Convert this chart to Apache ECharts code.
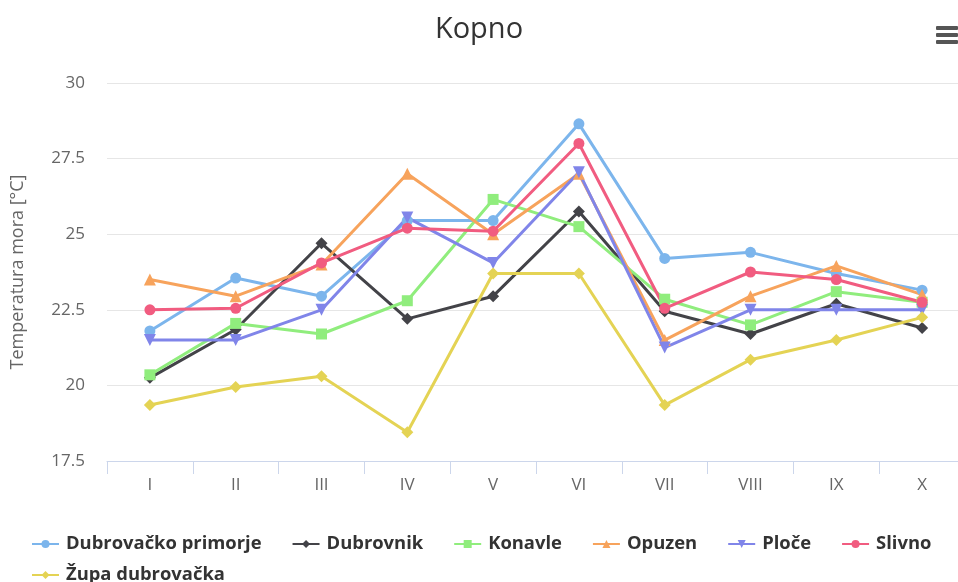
<!DOCTYPE html>
<html>
<head>
<meta charset="utf-8">
<script src="https://cdn.jsdelivr.net/npm/echarts@6/dist/echarts.min.js"></script>
<style>
  html, body { margin: 0; padding: 0; background: #fff; }
  #chart { width: 958px; height: 582px; }
</style>
</head>
<body>
<div id="chart"></div>
<script>
var months = ['I', 'II', 'III', 'IV', 'V', 'VI', 'VII', 'VIII', 'IX', 'X'];

var dubrovackoPrimorje = [21.8, 23.55, 22.95, 25.45, 25.45, 28.65, 24.2, 24.4, 23.7, 23.15];
var dubrovnik = [20.25, 21.85, 24.7, 22.2, 22.95, 25.75, 22.45, 21.7, 22.7, 21.9];
var konavle = [20.35, 22.05, 21.7, 22.8, 26.15, 25.25, 22.85, 22.0, 23.1, 22.75];
var opuzen = [23.5, 22.95, 24.0, 27.0, 25.0, 27.0, 21.5, 22.95, 23.95, 23.0];
var ploce = [21.5, 21.5, 22.5, 25.55, 24.05, 27.05, 21.25, 22.5, 22.5, 22.5];
var slivno = [22.5, 22.55, 24.05, 25.2, 25.1, 28.0, 22.55, 23.75, 23.5, 22.75];
var zupaDubrovacka = [19.35, 19.95, 20.3, 18.45, 23.7, 23.7, 19.35, 20.85, 21.5, 22.25];

var seriesDefs = [
    { name: 'Dubrovačko primorje', data: dubrovackoPrimorje, color: '#7cb5ec', symbol: 'circle', size: 11 },
    { name: 'Dubrovnik', data: dubrovnik, color: '#434348', symbol: 'diamond', size: 12 },
    { name: 'Konavle', data: konavle, color: '#90ed7d', symbol: 'rect', size: 11 },
    { name: 'Opuzen', data: opuzen, color: '#f7a35c', symbol: 'triangle', size: 12 },
    { name: 'Ploče', data: ploce, color: '#8085e9', symbol: 'triangle', size: 12, rotate: 180 },
    { name: 'Slivno', data: slivno, color: '#f15c80', symbol: 'circle', size: 11 },
    { name: 'Župa dubrovačka', data: zupaDubrovacka, color: '#e4d354', symbol: 'diamond', size: 12 }
];

var legendText = {
    color: '#333',
    fontSize: 18.4,
    fontWeight: 'bold',
    fontFamily: 'Open Sans, sans-serif',
    padding: [0, 0, 0, 2]
};

var chart = echarts.init(document.getElementById('chart'));

var option = {
    backgroundColor: '#fff',
    animation: false,
    textStyle: { fontFamily: 'Open Sans, sans-serif' },
    title: {
        text: 'Kopno',
        left: 'center',
        top: 10,
        textStyle: {
            color: '#333',
            fontSize: 29,
            fontWeight: 'normal',
            fontFamily: 'Open Sans, sans-serif'
        }
    },
    graphic: [
        { type: 'rect', right: 0, top: 26, shape: { width: 22, height: 4, r: 1 }, style: { fill: '#555' } },
        { type: 'rect', right: 0, top: 33, shape: { width: 22, height: 4, r: 1 }, style: { fill: '#555' } },
        { type: 'rect', right: 0, top: 40, shape: { width: 22, height: 4, r: 1 }, style: { fill: '#555' } }
    ],
    legend: [
        {
            data: seriesDefs.slice(0, 6).map(function (s) { return s.name; }),
            left: 31,
            top: 535,
            padding: 0,
            itemGap: 30,
            itemWidth: 27,
            itemHeight: 10,
            textStyle: legendText
        },
        {
            data: [seriesDefs[6].name],
            left: 31,
            top: 566,
            padding: 0,
            itemWidth: 27,
            itemHeight: 10,
            textStyle: legendText
        }
    ],
    grid: {
        left: 107,
        width: 858,
        top: 83,
        bottom: 121,
        outerBoundsMode: 'none'
    },
    xAxis: {
        type: 'category',
        data: months,
        boundaryGap: true,
        axisLine: { lineStyle: { color: '#ccd6eb', width: 1 } },
        axisTick: { show: true, length: 13, lineStyle: { color: '#ccd6eb' } },
        axisLabel: { color: '#666', fontSize: 17, margin: 16 }
    },
    yAxis: {
        type: 'value',
        min: 17.5,
        max: 30,
        interval: 2.5,
        name: 'Temperatura mora [°C]',
        nameLocation: 'middle',
        nameGap: 80,
        nameTextStyle: { color: '#666', fontSize: 18 },
        axisLine: { show: false },
        axisTick: { show: false },
        axisLabel: { color: '#666', fontSize: 17, margin: 22 },
        splitLine: { lineStyle: { color: '#e6e6e6' } }
    },
    series: seriesDefs.map(function (s) {
        return {
            name: s.name,
            type: 'line',
            data: s.data,
            symbol: s.symbol,
            symbolSize: s.size,
            symbolRotate: s.rotate || 0,
            showAllSymbol: true,
            lineStyle: { width: 3, color: s.color },
            itemStyle: { color: s.color },
            emphasis: { disabled: true }
        };
    })
};

chart.setOption(option);
</script>
</body>
</html>
